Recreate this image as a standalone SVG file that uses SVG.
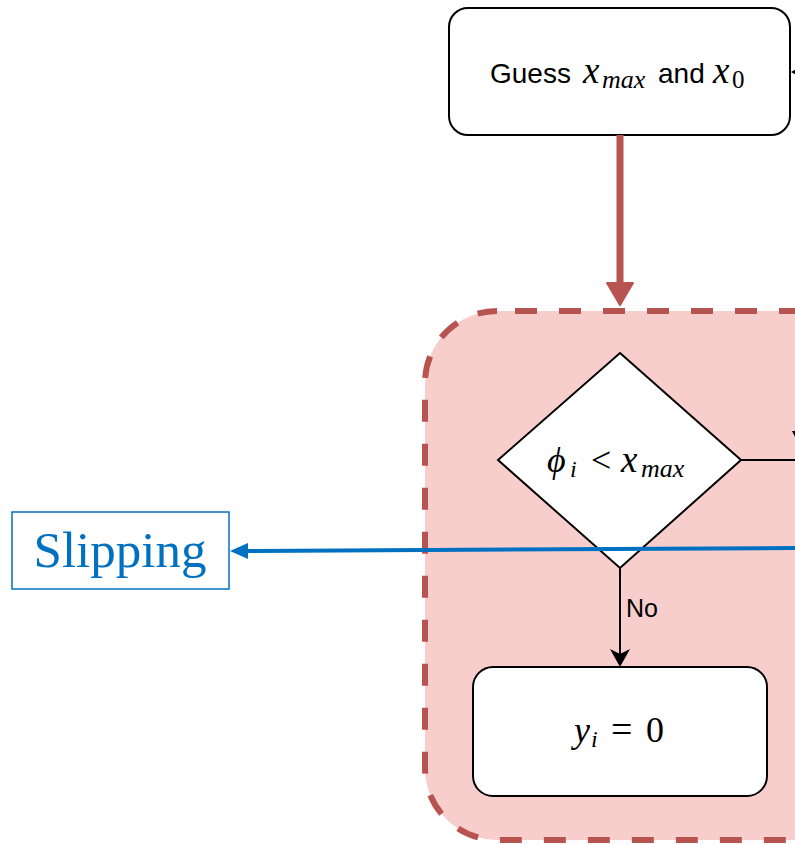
<svg xmlns="http://www.w3.org/2000/svg" width="795" height="845" viewBox="0 0 795 845">
<defs>
<style>
.box{fill:#ffffff;stroke:#000000;stroke-width:2}
.sans{font-family:"Liberation Sans",Arial,sans-serif;fill:#000}
.math{font-family:"Liberation Serif","Times New Roman",serif;font-style:italic;fill:#000}
.rm{font-family:"Liberation Serif","Times New Roman",serif;fill:#000}
.conn{stroke:#000;stroke-width:2;fill:none}
</style>
</defs>
<rect width="795" height="845" fill="#ffffff"/>
<g id="container">
<rect x="425" y="311" width="520" height="529" rx="72" ry="72" fill="#f8cecc" stroke="#b85450" stroke-width="6" stroke-dasharray="22 22" stroke-dashoffset="26"/>
</g>
<g id="guess">
<rect class="box" x="449" y="8" width="341" height="127" rx="19"/>
<text y="83"><tspan class="sans" x="490" font-size="28">Guess</tspan><tspan class="math" x="583" font-size="37">x</tspan><tspan class="math" x="602" y="88" font-size="26">max</tspan><tspan class="sans" x="658" y="83" font-size="28">and</tspan><tspan class="math" x="713" font-size="37">x</tspan><tspan class="rm" x="732" y="88" font-size="25">0</tspan></text>
</g>
<g id="decision">
<polygon points="620,353 741,460 620,568 498,460" fill="#ffffff" stroke="#000" stroke-width="2"/>
<text y="472"><tspan class="math" x="547" font-size="36">ϕ</tspan><tspan class="math" x="570" y="477" font-size="24">i</tspan><tspan class="rm" x="591" y="472" font-size="36">&lt;</tspan><tspan class="math" x="621" font-size="37">x</tspan><tspan class="math" x="641" y="477" font-size="26">max</tspan></text>
</g>
<g id="yzero">
<rect class="box" x="473" y="667" width="294" height="129" rx="20"/>
<text y="742"><tspan class="math" x="574" font-size="36">y</tspan><tspan class="math" x="591" y="747" font-size="24">i</tspan><tspan class="rm" x="611" y="742" font-size="38">=</tspan><tspan class="rm" x="646" font-size="36">0</tspan></text>
</g>
<g id="slipping">
<rect x="12" y="512" width="217" height="77" fill="#ffffff" stroke="#0070c0" stroke-width="1.5"/>
<text x="120" y="567" text-anchor="middle" font-family="Liberation Serif, 'Times New Roman', serif" font-size="51" fill="#0070c0">Slipping</text>
</g>
<g id="connectors">
<line x1="620" y1="135" x2="620" y2="288" stroke="#b85450" stroke-width="7"/>
<path d="M607,283 L633,283 L620,305 Z" fill="#b85450" stroke="#b85450" stroke-width="2" stroke-linejoin="round"/>
<line class="conn" x1="741" y1="460" x2="800" y2="460"/>
<polygon points="792,431 808,431 800,447" fill="#000"/>
<polygon points="791,72 800,67 800,77" fill="#000"/>
<line class="conn" x1="620" y1="568" x2="620" y2="660"/>
<path d="M620,667 L610,649 L620,654 L630,649 Z" fill="#000"/>
<text class="sans" x="626" y="617" font-size="25">No</text>
<line x1="800" y1="548" x2="246" y2="551" stroke="#0070c0" stroke-width="4"/>
<path d="M230,551 L248,543 L248,559 Z" fill="#0070c0"/>
</g>
</svg>
